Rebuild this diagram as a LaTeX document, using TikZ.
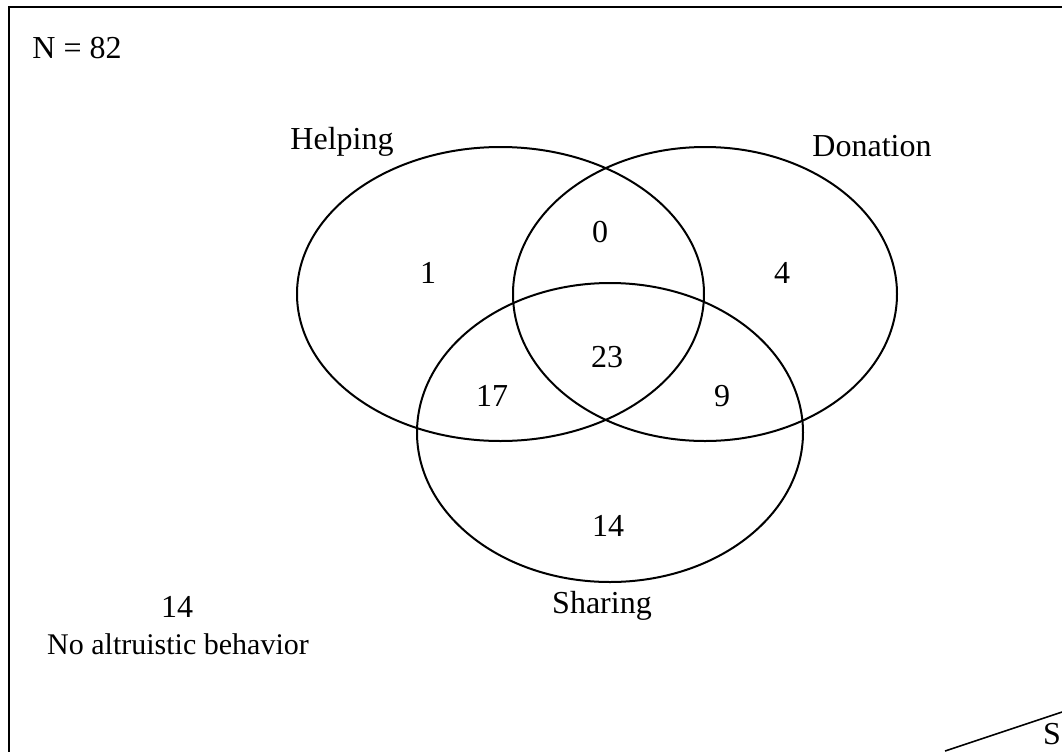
\documentclass[tikz,border=0pt]{standalone}
\usepackage{fontspec}
\setmainfont{Liberation Serif}
\begin{document}
\begin{tikzpicture}[x=0.5pt,y=-0.5pt,
  set/.style={draw=black,line width=1pt},
  lbl/.style={inner sep=0pt,font=\fontsize{16}{19}\selectfont}]
\useasboundingbox (0,0) rectangle (1062,751);
\clip (0,0) rectangle (1062,751);
% frame
\draw[line width=1.1pt] (1080,7) -- (9,7) -- (9,770);
% sets
\draw[set] (500.5,294) ellipse [x radius=101.75pt, y radius=73.5pt];
\draw[set] (705,294) ellipse [x radius=96pt, y radius=73.5pt];
\draw[set] (610,432.5) ellipse [x radius=96.5pt, y radius=74.75pt];
% labels
\node[lbl] (n) at (77,48) {N = 82};
\node[lbl] (help) at (342,142) {Helping};
\node[lbl] (don) at (872,146) {Donation};
\node[lbl] (share) at (602,606) {Sharing};
\node[lbl] (h) at (428,273) {1};
\node[lbl] (hd) at (600,232) {0};
\node[lbl] (d) at (782,273) {4};
\node[lbl] (hds) at (607,357) {23};
\node[lbl] (hs) at (492,396) {17};
\node[lbl] (ds) at (722,396) {9};
\node[lbl] (s) at (608,526) {14};
\node[lbl] (none) at (177,607) {14};
\node[lbl] (nonelbl) at (178,644) {\fontsize{15}{18}\selectfont No altruistic behavior};
% corner
\coordinate (c1) at (945,751);
\coordinate (c2) at (1062,712);
\draw[line width=0.8pt] (c1) -- (c2);
\node[lbl] (S) at (1052,734) {S};
\end{tikzpicture}
\end{document}
